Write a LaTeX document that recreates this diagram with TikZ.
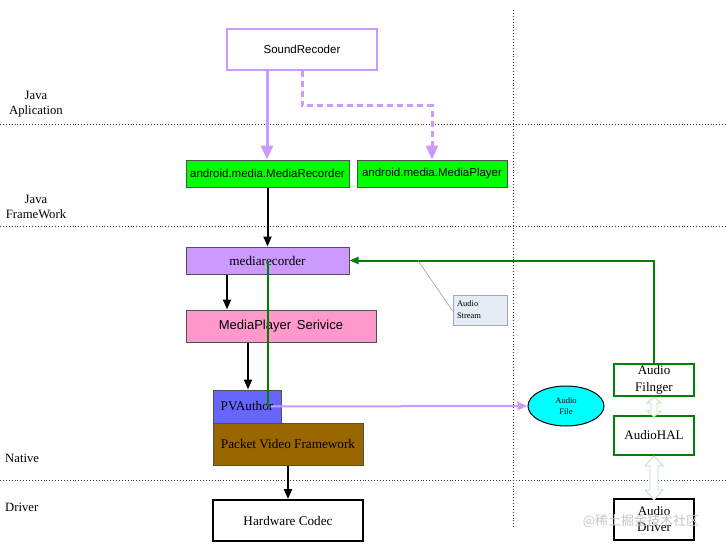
\documentclass[tikz,border=0pt]{standalone}
\usepackage{fontspec}
\setmainfont{Liberation Serif}
\setsansfont{Liberation Sans}
\newfontfamily\cjkfont{Noto Sans CJK SC}
\usetikzlibrary{arrows.meta,calc,shapes.geometric}
\definecolor{violetc}{HTML}{CC99FF}
\definecolor{limec}{HTML}{00FF00}
\definecolor{pinkc}{HTML}{FF99CC}
\definecolor{bluec}{HTML}{6666FF}
\definecolor{brownc}{HTML}{996600}
\definecolor{cyanc}{HTML}{00FFFF}
\definecolor{dgreen}{HTML}{008000}
\definecolor{lgreen}{HTML}{B8E0B8}
\definecolor{callfill}{HTML}{E6ECF5}
\definecolor{callborder}{HTML}{A8A8A8}
\definecolor{boxborder}{HTML}{505050}
\begin{document}
\begin{tikzpicture}[x=1pt,y=-1pt,
  sep/.style={dotted,line width=0.9pt,black!80},
  layerlbl/.style={font=\fontsize{12.7}{15}\selectfont,align=center,inner sep=0},
  filledbox/.style={draw=boxborder,line width=1pt,inner sep=0},
  sanslbl/.style={font=\sffamily\fontsize{11.5}{12}\selectfont},
  seriflbl/.style={font=\fontsize{13.2}{14}\selectfont},
  greenbox/.style={draw=dgreen,line width=1.8pt,fill=white,inner sep=0,align=center,font=\fontsize{13}{16.5}\selectfont},
  varrow/.style={violetc,line width=3pt,-{Triangle[length=14pt,width=12pt]}},
  vdash/.style={violetc,line width=3pt,dash pattern=on 6pt off 4pt,-{Triangle[length=14pt,width=12pt]}},
  barrow/.style={black,line width=2pt,-{Triangle[length=10pt,width=8pt]}},
  garrow/.style={dgreen,line width=2pt,-{Triangle[length=9pt,width=7pt]}},
  gline/.style={dgreen,line width=2pt},
  vthin/.style={violetc,line width=2pt,-{Triangle[length=10pt,width=8pt]}},
  dbl/.style={draw=lgreen,fill=white,line width=0.8pt,line join=miter}
]
\useasboundingbox (0,0) rectangle (726,546);
% separators
\draw[sep] (0,124) -- (726,124);
\draw[sep] (0,226) -- (726,226);
\draw[sep] (0,480) -- (726,480);
\draw[sep] (513,10) -- (513,527);
% layer labels
\node[layerlbl] (lja) at (36,104) {Java\\Aplication};
\node[layerlbl] (ljf) at (36,207) {Java\\FrameWork};
\node[layerlbl,anchor=west] (lnat) at (5,458) {Native};
\node[layerlbl,anchor=west] (ldrv) at (5,507) {Driver};
% boxes
\node[draw=violetc,line width=1.8pt,fill=white,minimum width=150pt,minimum height=41pt,inner sep=0,sanslbl] (sr) at (302,49.5) {SoundRecoder};
\node[filledbox,fill=limec,minimum width=163pt,minimum height=27pt,sanslbl] (amr) at (267.5,173.5) {android.media.MediaRecorder};
\node[filledbox,fill=limec,minimum width=150pt,minimum height=27pt,sanslbl] (amp) at (432,173.5) {android.media.MediaPlayer};
\node[filledbox,fill=violetc,minimum width=163pt,minimum height=27pt,seriflbl] (mr) at (267.5,260.5) {mediarecorder};
\node[filledbox,fill=pinkc,minimum width=190pt,minimum height=32pt,font=\sffamily\fontsize{13}{14}\selectfont] (mps) at (281,326) {MediaPlayer\, Serivice};
\node[filledbox,fill=bluec,minimum width=68pt,minimum height=33pt,seriflbl] (pv) at (247,406.5) {PVAuthor};
\node[filledbox,fill=brownc,minimum width=150pt,minimum height=42pt,seriflbl] (pvf) at (288,444) {Packet Video Framework};
\node[draw=black,line width=2pt,fill=white,minimum width=150pt,minimum height=41pt,inner sep=0,seriflbl] (hc) at (288,520.5) {Hardware Codec};
\node[draw=callborder,line width=0.8pt,fill=callfill,minimum width=54pt,minimum height=30pt,inner sep=3pt,align=left,text width=46pt,font=\fontsize{8.5}{12}\selectfont] (cs) at (480,310) {Audio\\Stream};
\node[ellipse,draw=black,line width=1pt,fill=cyanc,minimum width=76pt,minimum height=40pt,inner sep=0,align=center,font=\fontsize{8.5}{11.5}\selectfont] (af) at (566,406) {Audio\\File};
\node[greenbox,minimum width=80pt,minimum height=32pt] (fl) at (654,380) {Audio\\Filnger};
\node[greenbox,minimum width=80pt,minimum height=39pt] (hal) at (654,435.5) {AudioHAL};
\node[draw=black,line width=2pt,fill=white,minimum width=80pt,minimum height=41pt,inner sep=0,align=center,font=\fontsize{13}{16}\selectfont] (drv) at (654,519.5) {Audio\\Driver};
% connectors
\draw[varrow] ([xshift=-35pt]sr.south) -- ([xshift=-35pt]sr.south |- amr.north);
\draw[vdash] (sr.south) -- ++(0,35) -| (amp.north);
\draw[barrow] (amr.south) -- (mr.north);
\draw[barrow] ([xshift=-40.5pt]mr.south) -- ([xshift=-40.5pt]mr.south |- mps.north);
\draw[barrow] ([xshift=-33pt]mps.south) -- ([xshift=-33pt]mps.south |- pv.north);
\draw[barrow] (pvf.south) -- (hc.north);
\draw[garrow] (fl.north) |- (mr.east);
\draw[gline] (mr.center) -- (mr.center |- pv.center);
\draw[vthin] ([xshift=3pt]mr.center |- pv.center) -- (af.west);
\coordinate (csp) at (418,260.5);
\draw[callborder,line width=0.7pt] (csp) -- ([yshift=-1pt]cs.west);
% double arrows
\draw[dbl] (fl.south) -- ++(7,6) -- ++(-4,0) -- ++(0,8) -- ++(4,0) -- ++(-7,6) -- ++(-7,-6) -- ++(4,0) -- ++(0,-8) -- ++(-4,0) -- cycle;
\draw[dbl] (hal.south) -- ++(9,10) -- ++(-5,0) -- ++(0,24) -- ++(5,0) -- ++(-9,10) -- ++(-9,-10) -- ++(5,0) -- ++(0,-24) -- ++(-5,0) -- cycle;
% watermark
\node[text=black!22,font=\cjkfont\fontsize{13}{14}\selectfont,inner sep=0] (wm) at (641,521) {@稀土掘金技术社区};
\end{tikzpicture}
\end{document}
